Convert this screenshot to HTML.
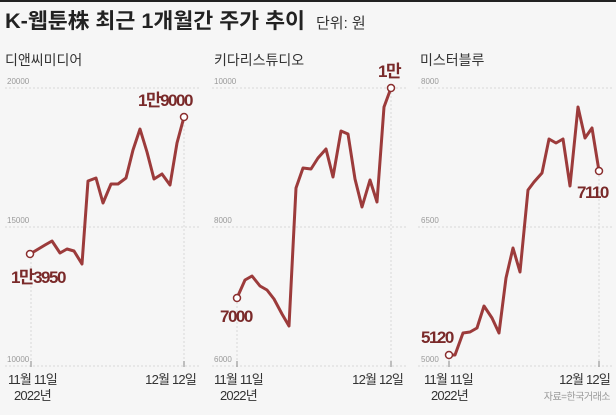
<!DOCTYPE html>
<html><head><meta charset="utf-8"><style>
html,body{margin:0;padding:0;background:#f6f6f6;}
svg{display:block;}
text{font-family:"Liberation Sans","Noto Sans CJK KR",sans-serif;}
</style></head><body>
<svg width="616" height="415" viewBox="0 0 616 415" xmlns="http://www.w3.org/2000/svg">
<rect width="616" height="415" fill="#f6f6f6"/>
<rect width="616" height="2" fill="#222"/>
<text x="5" y="28" font-size="21" font-weight="bold" fill="#222" textLength="300" lengthAdjust="spacingAndGlyphs">K-웹툰株 최근 1개월간 주가 추이</text>
<text x="316" y="28" font-size="15" fill="#333">단위: 원</text>
<text x="5" y="65" font-size="14" fill="#333">디앤씨미디어</text>
<text x="214" y="65" font-size="14" fill="#333">키다리스튜디오</text>
<text x="420" y="65" font-size="14" fill="#333">미스터블루</text>
<g stroke="#d8d8d8" stroke-width="1" stroke-dasharray="2,2">
<line x1="5" y1="88" x2="200" y2="88"/><line x1="5" y1="227" x2="200" y2="227"/><line x1="5" y1="366" x2="200" y2="366"/>
<line x1="212" y1="88" x2="406" y2="88"/><line x1="212" y1="227" x2="406" y2="227"/><line x1="212" y1="366" x2="406" y2="366"/>
<line x1="418" y1="88" x2="612" y2="88"/><line x1="418" y1="227" x2="612" y2="227"/><line x1="418" y1="366" x2="612" y2="366"/>
<line x1="31" y1="254" x2="31" y2="366"/><line x1="184" y1="117" x2="184" y2="366"/>
<line x1="237" y1="298" x2="237" y2="366"/><line x1="391" y1="88" x2="391" y2="366"/>
<line x1="449" y1="355" x2="449" y2="366"/><line x1="599" y1="171" x2="599" y2="366"/>
</g>
<g stroke="#888" stroke-width="1">
<line x1="31" y1="361" x2="31" y2="367"/><line x1="184" y1="361" x2="184" y2="367"/>
<line x1="237" y1="361" x2="237" y2="367"/><line x1="391" y1="361" x2="391" y2="367"/>
<line x1="449" y1="361" x2="449" y2="367"/><line x1="599" y1="361" x2="599" y2="367"/>
</g>
<g font-size="8" fill="#999">
<text x="7" y="84">20000</text><text x="7" y="223">15000</text><text x="7" y="362">10000</text>
<text x="214" y="84">10000</text><text x="214" y="223">8000</text><text x="214" y="362">6000</text>
<text x="421" y="84">8000</text><text x="421" y="223">6500</text><text x="421" y="362">5000</text>
</g>
<g fill="none" stroke="#9c3b3b" stroke-width="3" stroke-linejoin="round">
<polyline points="30,254 45,245 52,241 60,253 67,249 74,251 82,264 88,181 96,178 103,203 111,184 118,184 126,178 133,150 140,129 147,152 154,179 162,174 170,185 177,143 184,117"/>
<polyline points="237,298 245,280 252,276 260,286 267,290 274,299 282,314 289,326 296,188 303,168 311,169 318,158 326,149 333,177 341,131 348,134 355,179 362,207 370,180 377,202 384,107 391,88"/>
<polyline points="449,355 455,355 463,333 470,332 477,328 484,306 492,318 499,333 506,278 513,248 520,272 528,190 534,182 542,173 549,139 556,143 563,139 570,186 578,107 585,138 592,128 599,171"/>
</g>
<g fill="#fff" stroke="#8a2e2e" stroke-width="1.5">
<circle cx="30" cy="254" r="3.5"/><circle cx="184" cy="117" r="3.5"/>
<circle cx="237" cy="298" r="3.5"/><circle cx="391" cy="88" r="3.5"/>
<circle cx="449" cy="355" r="3.5"/><circle cx="599" cy="171" r="3.5"/>
</g>
<g font-size="17" font-weight="bold" fill="#7a2a2a" letter-spacing="-1.5">
<text x="11" y="283">1만3950</text>
<text x="138" y="106">1만9000</text>
<text x="220" y="322">7000</text>
<text x="378" y="77">1만</text>
<text x="421" y="343">5120</text>
<text x="577" y="198">7110</text>
</g>
<g font-size="13" fill="#333" letter-spacing="-0.8">
<text x="8" y="384">11월 11일</text><text x="196" y="384" text-anchor="end">12월 12일</text>
<text x="214" y="384">11월 11일</text><text x="403" y="384" text-anchor="end">12월 12일</text>
<text x="424" y="384">11월 11일</text><text x="610" y="384" text-anchor="end">12월 12일</text>
<text x="14" y="400">2022년</text><text x="220" y="400">2022년</text><text x="431" y="400">2022년</text>
</g>
<text x="610" y="400" font-size="10" fill="#999" text-anchor="end" letter-spacing="-0.5">자료=한국거래소</text>
</svg>
</body></html>
